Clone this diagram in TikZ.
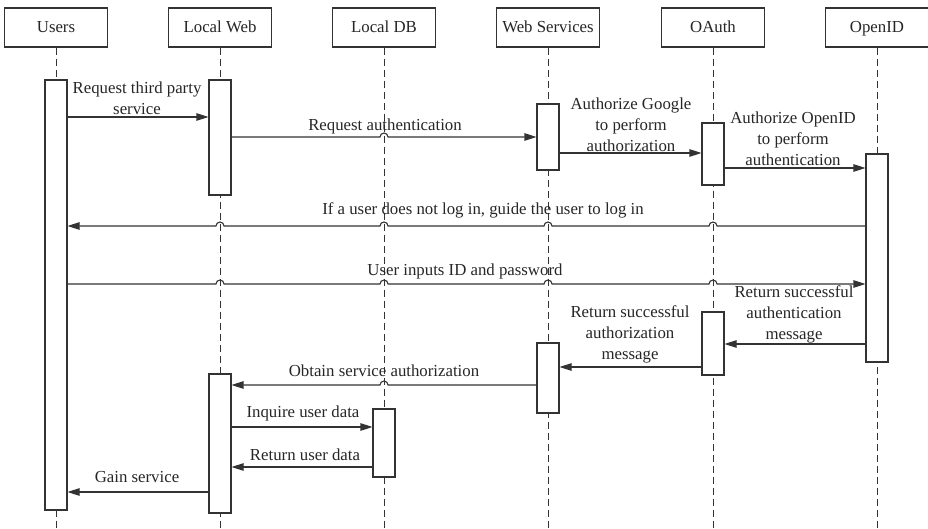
\documentclass[tikz,border=0pt]{standalone}
\usepackage{fontspec}
\setmainfont{Liberation Serif}
\usetikzlibrary{arrows.meta,calc}
\definecolor{ink}{HTML}{333333}
\definecolor{txt}{HTML}{262626}

\begin{document}
\begin{tikzpicture}[x=1pt,y=-1pt,
  every node/.style={font=\fontsize{16.8}{21}\selectfont, text=txt},
  actor/.style={draw=ink, line width=1.1pt, fill=white, minimum width=103pt, minimum height=39pt, inner sep=0pt, text height=12pt, text depth=1pt},
  lifeline/.style={draw=ink, line width=1pt, dash pattern=on 7pt off 4pt},
  bar/.style={draw=ink, line width=1.1pt, fill=white, minimum width=22pt, inner sep=0pt},
  msg/.style={draw=ink, line width=1.1pt, -{Triangle[length=12pt,width=7.5pt]}},
  lbl/.style={align=center, inner sep=0pt}]

\useasboundingbox (0,0) rectangle (928,529);
\coordinate (bottom) at (0,529);

% participants
\node[actor] (hU) at (56,27.5)  {Users};
\node[actor] (hW) at (220,27.5) {Local Web};
\node[actor] (hD) at (384,27.5) {Local DB};
\node[actor] (hS) at (548,27.5) {Web Services};
\node[actor] (hO) at (713,27.5) {OAuth};
\node[actor] (hP) at (877,27.5) {OpenID};

% lifelines
\foreach \p in {hU,hW,hD,hS,hO,hP}
  \draw[lifeline] (\p.south) -- (\p.south |- bottom);

% activation bars
\node[bar, minimum height=430pt] (u1) at (56,295)    {};
\node[bar, minimum height=115pt] (w1) at (220,137.5) {};
\node[bar, minimum height=139pt] (w2) at (220,443.5) {};
\node[bar, minimum height=68pt]  (d1) at (384,443)   {};
\node[bar, minimum height=66pt]  (s1) at (548,137)   {};
\node[bar, minimum height=70pt]  (s2) at (548,378)   {};
\node[bar, minimum height=62pt]  (o1) at (713,154)   {};
\node[bar, minimum height=63pt]  (o2) at (713,343.5) {};
\node[bar, minimum height=208pt] (p1) at (877,258)   {};

% message levels
\coordinate (m1) at (0,117);
\coordinate (m2) at (0,137);
\coordinate (m3) at (0,153);
\coordinate (m4) at (0,168);
\coordinate (m5) at (0,226);
\coordinate (m6) at (0,284);
\coordinate (m7) at (0,344);
\coordinate (m8) at (0,367);
\coordinate (m9) at (0,385);
\coordinate (m10) at (0,427);
\coordinate (m11) at (0,467);
\coordinate (m12) at (0,492);

% messages (small hops where a message passes over a lifeline)
\draw[msg] (u1.east |- m1) -- (w1.west |- m1);
\draw[msg] (w1.east |- m2) -- ($(hD.south |- m2)+(-4,0)$) arc[start angle=180,end angle=0,radius=4pt] -- (s1.west |- m2);
\draw[msg] (s1.east |- m3) -- (o1.west |- m3);
\draw[msg] (o1.east |- m4) -- (p1.west |- m4);
\draw[msg] (p1.west |- m5)
  -- ($(hO.south |- m5)+(4,0)$) arc[start angle=0,end angle=180,radius=4pt]
  -- ($(hS.south |- m5)+(4,0)$) arc[start angle=0,end angle=180,radius=4pt]
  -- ($(hD.south |- m5)+(4,0)$) arc[start angle=0,end angle=180,radius=4pt]
  -- ($(hW.south |- m5)+(4,0)$) arc[start angle=0,end angle=180,radius=4pt]
  -- (u1.east |- m5);
\draw[msg] (u1.east |- m6)
  -- ($(hW.south |- m6)+(-4,0)$) arc[start angle=180,end angle=0,radius=4pt]
  -- ($(hD.south |- m6)+(-4,0)$) arc[start angle=180,end angle=0,radius=4pt]
  -- ($(hS.south |- m6)+(-4,0)$) arc[start angle=180,end angle=0,radius=4pt]
  -- ($(hO.south |- m6)+(-4,0)$) arc[start angle=180,end angle=0,radius=4pt]
  -- (p1.west |- m6);
\draw[msg] (p1.west |- m7) -- (o2.east |- m7);
\draw[msg] (o2.west |- m8) -- (s2.east |- m8);
\draw[msg] (s2.west |- m9) -- ($(hD.south |- m9)+(4,0)$) arc[start angle=0,end angle=180,radius=4pt] -- (w2.east |- m9);
\draw[msg] (w2.east |- m10) -- (d1.west |- m10);
\draw[msg] (d1.west |- m11) -- (w2.east |- m11);
\draw[msg] (w2.west |- m12) -- (u1.east |- m12);

% message labels
\node[lbl] (t1)  at (137,98)  {Request third party\\service};
\node[lbl] (t2)  at (385,126) {Request authentication};
\node[lbl] (t3)  at (631,125) {Authorize Google\\to perform\\authorization};
\node[lbl] (t4)  at (793,139) {Authorize OpenID\\to perform\\authentication};
\node[lbl] (t5)  at (483,210) {If a user does not log in, guide the user to log in};
\node[lbl] (t6)  at (465,271) {User inputs ID and password};
\node[lbl] (t7)  at (794,314) {Return successful\\authentication\\message};
\node[lbl] (t8)  at (630,334) {Return successful\\authorization\\message};
\node[lbl] (t9)  at (384,371) {Obtain service authorization};
\node[lbl] (t10) at (303,413) {Inquire user data};
\node[lbl] (t11) at (305,455) {Return user data};
\node[lbl] (t12) at (137,477) {Gain service};
\end{tikzpicture}
\end{document}
